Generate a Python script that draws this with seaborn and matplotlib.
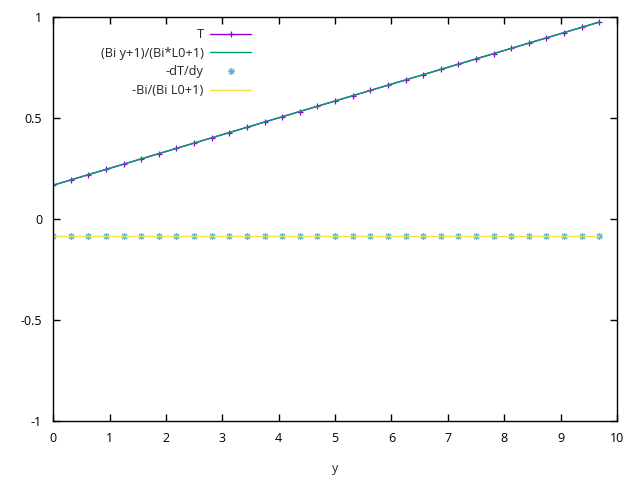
import numpy as np
import pandas as pd
import matplotlib
matplotlib.use("Agg")
import matplotlib.pyplot as plt
import seaborn as sns

# sample positions along y (32 points)
y_vals = [0.0, 0.3125, 0.625, 0.9375, 1.25, 1.5625, 1.875, 2.1875, 2.5, 2.8125,
          3.125, 3.4375, 3.75, 4.0625, 4.375, 4.6875, 5.0, 5.3125, 5.625, 5.9375,
          6.25, 6.5625, 6.875, 7.1875, 7.5, 7.8125, 8.125, 8.4375, 8.75, 9.0625,
          9.375, 9.6875]
# temperature T (numerical)
T_vals = [0.1667, 0.1927, 0.2188, 0.2448, 0.2708, 0.2969, 0.3229, 0.3490, 0.3750, 0.4010,
          0.4271, 0.4531, 0.4792, 0.5052, 0.5313, 0.5573, 0.5833, 0.6094, 0.6354, 0.6615,
          0.6875, 0.7135, 0.7396, 0.7656, 0.7917, 0.8177, 0.8438, 0.8698, 0.8958, 0.9219,
          0.9479, 0.9740]
# analytic T, same values
T_exact = list(T_vals)
# -dT/dy (numerical) and analytic
dT_vals = [-0.0833] * 32
dT_exact = [-0.0833] * 32

labels = ['T', '(Bi y+1)/(Bi*L0+1)', '-dT/dy', '-Bi/(Bi L0+1)']
colors = ['#9400d3', '#009e73', '#56b4e9', '#f0e442']

sns.set_style('ticks')
plt.rcParams['font.family'] = ['Open Sans', 'DejaVu Sans']

fig = plt.figure(figsize=(6.4, 4.8), dpi=100)
ax = fig.add_axes([0.083, 0.123, 0.881, 0.842])

df = pd.DataFrame({'y': y_vals, 'T': T_vals, 'Te': T_exact, 'd': dT_vals, 'de': dT_exact})

sns.lineplot(data=df, x='y', y='T', ax=ax, color=colors[0], lw=1, marker='+',
             markersize=5, markeredgewidth=0.9, markeredgecolor=colors[0], label=labels[0])
sns.lineplot(data=df, x='y', y='Te', ax=ax, color=colors[1], lw=1, label=labels[1])
sns.lineplot(data=df, x='y', y='d', ax=ax, color=colors[2], lw=0, marker=(8, 2, 0),
             markersize=5, markeredgewidth=0.8, markeredgecolor=colors[2], label=labels[2])
sns.lineplot(data=df, x='y', y='de', ax=ax, color=colors[3], lw=1, label=labels[3])

ax.set_xlim(0, 10)
ax.set_ylim(-1, 1)
ax.set_xticks(range(0, 11))
ax.set_yticks([-1, -0.5, 0, 0.5, 1])
ax.set_yticklabels(['-1', '-0.5', '0', '0.5', '1'])
ax.set_xlabel('y', fontsize=9, labelpad=12)
ax.set_ylabel('')
ax.tick_params(direction='in', length=5, width=1, top=True, right=True,
               labelsize=9, pad=8, colors='black')
for s in ax.spines.values():
    s.set_visible(True)
    s.set_linewidth(1)
    s.set_color('black')

leg = ax.legend(loc='upper right', bbox_to_anchor=(0.36, 0.985), frameon=False,
                markerfirst=False, fontsize=9.2, handlelength=3.2, labelspacing=0.45,
                borderaxespad=0.0, handletextpad=0.5)
for t in leg.get_texts():
    t.set_ha('right')
leg._legend_box.align = 'right'

fig.savefig('out.png', dpi=100)
